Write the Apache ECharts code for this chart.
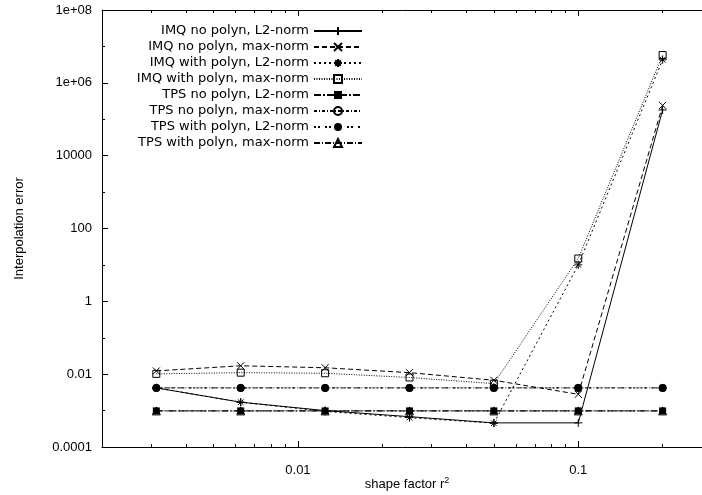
<!DOCTYPE html>
<html>
<head>
<meta charset="utf-8">
<script src="https://cdn.jsdelivr.net/npm/echarts@6/dist/echarts.min.js"></script>
<style>
  html, body { margin: 0; padding: 0; background: #fff; }
  #chart { width: 702px; height: 495px; }
</style>
</head>
<body>
<div id="chart"></div>
<script>
// shape factor values (x) shared by all curves
const shapeFactors = [0.003125, 0.00625, 0.0125, 0.025, 0.05, 0.1, 0.2];

const imqNoL2 = [0.0042, 0.0017, 0.001, 0.00068, 0.00046, 0.00046, 1.8e5];
const imqNoMax = [0.0123, 0.017, 0.015, 0.011, 0.0068, 0.0028, 2.4e5];
const imqWithL2 = [0.0042, 0.0017, 0.00095, 0.00064, 0.00045, 10, 4.3e6];
const imqWithMax = [0.0102, 0.011, 0.0106, 0.0081, 0.0055, 15, 5.8e6];
const tpsNoL2 = [0.00098, 0.00098, 0.00098, 0.00098, 0.00098, 0.00098, 0.00098];
const tpsNoMax = [0.0042, 0.0042, 0.0042, 0.0042, 0.0042, 0.0042, 0.0042];
const tpsWithL2 = [0.0042, 0.0042, 0.0042, 0.0042, 0.0042, 0.0042, 0.0042];
const tpsWithMax = [0.00098, 0.00098, 0.00098, 0.00098, 0.00098, 0.00098, 0.00098];

const xMajorTicks = [0.01, 0.1];
const xMinorTicks = [0.003, 0.004, 0.005, 0.006, 0.007, 0.008, 0.009,
  0.02, 0.03, 0.04, 0.05, 0.06, 0.07, 0.08, 0.09, 0.2];
const yMajorTicks = [1e-4, 1e-2, 1, 100, 1e4, 1e6, 1e8];
const yMajorLabels = ['0.0001', '0.01', '1', '100', '10000', '1e+06', '1e+08'];
const yMinorTicks = [1e-3, 1e-1, 10, 1e3, 1e5, 1e7];

const pick = (vals, labels) => v => {
  for (let i = 0; i < vals.length; i++) {
    if (Math.abs(Math.log10(v) - Math.log10(vals[i])) < 1e-6) return labels[i];
  }
  return '';
};

const axisFont = { fontFamily: 'Liberation Sans', fontSize: 13, color: '#000' };
const black = '#000';

const xBase = { type: 'log', logBase: 10, min: 0.002, max: 0.3, splitLine: { show: false } };
const yBase = { type: 'log', logBase: 10, min: 1e-4, max: 1e8, splitLine: { show: false } };

const hollow = { color: 'rgba(0,0,0,0)', borderColor: black, borderWidth: 1 };
const solid = { color: black, borderColor: black, borderWidth: 0 };

const curves = [
  { name: 'IMQ no polyn, L2-norm', y: imqNoL2, dash: 'solid', symbol: 'path://M0,5L10,5M5,0L5,10', size: 8, item: hollow },
  { name: 'IMQ no polyn, max-norm', y: imqNoMax, dash: [5, 3], symbol: 'path://M0,0L10,10M10,0L0,10', size: 7, item: hollow },
  { name: 'IMQ with polyn, L2-norm', y: imqWithL2, dash: [2, 3], symbol: 'path://M0,5L10,5M5,0L5,10M1.5,1.5L8.5,8.5M8.5,1.5L1.5,8.5', size: 8, item: hollow },
  { name: 'IMQ with polyn, max-norm', y: imqWithMax, dash: [1, 1.5], symbol: 'rect', size: 7, item: hollow },
  { name: 'TPS no polyn, L2-norm', y: tpsNoL2, dash: [7, 2, 2, 2], symbol: 'rect', size: 7, item: solid },
  { name: 'TPS no polyn, max-norm', y: tpsNoMax, dash: [3, 2, 1, 2], symbol: 'circle', size: 7, item: hollow },
  { name: 'TPS with polyn, L2-norm', y: tpsWithL2, dash: [2, 2, 2, 5], symbol: 'circle', size: 8, item: solid },
  { name: 'TPS with polyn, max-norm', y: tpsWithMax, dash: [6, 2, 1, 2], symbol: 'triangle', size: 8, item: hollow }
];

const chart = echarts.init(document.getElementById('chart'), null, { renderer: 'canvas' });

chart.setOption({
  backgroundColor: '#fff',
  animation: false,
  grid: { left: 102, right: -10, top: 10, bottom: 48, outerBoundsMode: 'none', containLabel: false },
  legend: {
    orient: 'vertical',
    right: 339,
    top: 23,
    padding: 0,
    itemGap: 0,
    itemWidth: 48,
    itemHeight: 10,
    align: 'right',
    selectedMode: false,
    textStyle: { fontFamily: 'DejaVu Sans', fontSize: 13, color: black, lineHeight: 16 },
    data: curves.map(c => c.name)
  },
  xAxis: [
    Object.assign({}, xBase, {
      position: 'bottom',
      name: 'shape factor r{sup|2}',
      nameLocation: 'middle',
      nameGap: 29,
      nameMoveOverlap: false,
      nameTextStyle: Object.assign({}, axisFont, {
        rich: { sup: { fontFamily: 'Liberation Sans', fontSize: 9, color: black, padding: [0, 0, 8, 0] } }
      }),
      axisLine: { show: true, lineStyle: { color: black, width: 1 } },
      axisTick: { show: true, inside: true, length: 6, customValues: xMajorTicks, lineStyle: { color: black } },
      axisLabel: Object.assign({}, axisFont, { customValues: xMajorTicks, margin: 17, formatter: v => String(Number(v.toPrecision(3))) })
    }),
    Object.assign({}, xBase, {
      position: 'bottom',
      axisLine: { show: false },
      axisTick: { show: true, inside: true, length: 3, customValues: xMinorTicks, lineStyle: { color: black } },
      axisLabel: { show: false }
    }),
    Object.assign({}, xBase, {
      position: 'top',
      axisLine: { show: true, lineStyle: { color: black, width: 1 } },
      axisTick: { show: true, inside: true, length: 6, customValues: xMajorTicks, lineStyle: { color: black } },
      axisLabel: { show: false }
    }),
    Object.assign({}, xBase, {
      position: 'top',
      axisLine: { show: false },
      axisTick: { show: true, inside: true, length: 3, customValues: xMinorTicks, lineStyle: { color: black } },
      axisLabel: { show: false }
    })
  ],
  yAxis: [
    Object.assign({}, yBase, {
      position: 'left',
      name: 'Interpolation error',
      nameLocation: 'middle',
      nameGap: 76,
      nameMoveOverlap: false,
      nameTextStyle: axisFont,
      axisLine: { show: true, lineStyle: { color: black, width: 1 } },
      axisTick: { show: true, inside: true, length: 6, customValues: yMajorTicks, lineStyle: { color: black } },
      axisLabel: Object.assign({}, axisFont, { customValues: yMajorTicks, margin: 10, formatter: pick(yMajorTicks, yMajorLabels) })
    }),
    Object.assign({}, yBase, {
      position: 'left',
      axisLine: { show: false },
      axisTick: { show: true, inside: true, length: 3, customValues: yMinorTicks, lineStyle: { color: black } },
      axisLabel: { show: false }
    })
  ],
  series: curves.map(c => ({
    name: c.name,
    type: 'line',
    xAxisIndex: 0,
    yAxisIndex: 0,
    data: shapeFactors.map((x, i) => [x, c.y[i]]),
    symbol: c.symbol,
    symbolSize: c.size,
    showSymbol: true,
    itemStyle: c.item,
    lineStyle: { color: black, width: 1, type: c.dash },
    emphasis: { disabled: true }
  }))
});
</script>
</body>
</html>
